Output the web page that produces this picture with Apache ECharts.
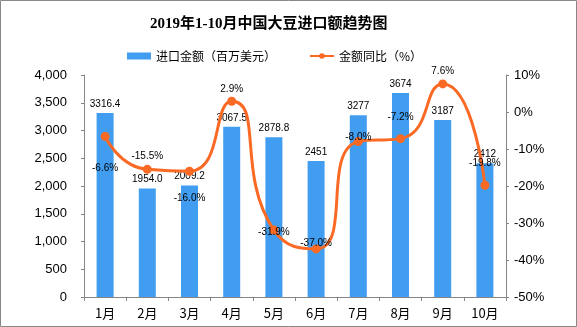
<!DOCTYPE html>
<html><head><meta charset="utf-8">
<script src="https://cdn.jsdelivr.net/npm/echarts@6/dist/echarts.min.js"></script>
<style>html,body{margin:0;padding:0;background:#fff}#c{width:577px;height:327px}</style>
</head><body><div id="c"></div>
<script>
const categories = ['1月','2月','3月','4月','5月','6月','7月','8月','9月','10月'];
const importValue = [3316.4, 1954.0, 2009.2, 3067.5, 2878.8, 2451, 3277, 3674, 3187, 2412];
const importLabels = ['3316.4','1954.0','2009.2','3067.5','2878.8','2451','3277','3674','3187','2412'];
const yoy = [-6.6, -15.5, -16.0, 2.9, -31.9, -37.0, -8.0, -7.2, 7.6, -19.8];
const yoyLabels = ['-6.6%','-15.5%','-16.0%','2.9%','-31.9%','-37.0%','-8.0%','-7.2%','7.6%','-19.8%'];
const leftTicks = [0, 4000, 500];
const rightTicks = [-50, 10, 10];

const numFont = '"Liberation Sans", "Noto Sans CJK SC", sans-serif';
const cjkFont = '"Noto Sans CJK SC", sans-serif';
// label placement per point (visual layout only)
const yoyLabelPos = [
  {position:'bottom', distance:22},
  {position:'top', distance:4},
  {position:'bottom', distance:18},
  {position:'top', distance:3},
  {position:'inside', offset:[0,2]},
  {position:'inside', offset:[0,-6]},
  {position:'inside', offset:[0,-4]},
  {position:'top', distance:12},
  {position:'top', distance:3},
  {position:'top', distance:13}
];

const chart = echarts.init(document.getElementById('c'), null, {renderer:'canvas'});
chart.setOption({
  animation:false,
  backgroundColor:'#fff',
  title:{
    text:'2019年1-10月中国大豆进口额趋势图',
    left:145, top:12,
    textStyle:{fontSize:15, fontWeight:'bold', color:'#000', fontFamily:'"Liberation Serif", "Noto Sans CJK SC", serif'}
  },
  legend:{
    left:122, top:45, itemGap:33, itemWidth:24, itemHeight:7,
    textStyle:{fontSize:12, color:'#000', fontFamily:cjkFont},
    data:[{name:'进口金额（百万美元）', icon:'rect'}, {name:'金额同比（%）'}]
  },
  grid:{left:84, right:71, top:75, bottom:30},
  xAxis:{
    type:'category', data:categories, boundaryGap:true,
    axisLine:{lineStyle:{color:'#868686', width:1}},
    axisTick:{show:true, length:4, lineStyle:{color:'#868686'}},
    axisLabel:{color:'#000', fontSize:13, margin:10, fontFamily:cjkFont}
  },
  yAxis:[{
    type:'value', min:leftTicks[0], max:leftTicks[1], interval:leftTicks[2],
    axisLine:{show:true, lineStyle:{color:'#868686'}},
    axisTick:{show:true, length:3, lineStyle:{color:'#868686'}},
    splitLine:{show:false},
    axisLabel:{color:'#000', fontSize:13, margin:17, fontFamily:numFont,
      formatter:v=>v.toLocaleString('en-US')}
  },{
    type:'value', min:rightTicks[0], max:rightTicks[1], interval:rightTicks[2],
    axisLine:{show:true, lineStyle:{color:'#868686'}},
    axisTick:{show:true, length:3, lineStyle:{color:'#868686'}},
    splitLine:{show:false},
    axisLabel:{color:'#000', fontSize:13, margin:8, fontFamily:numFont, formatter:'{value}%'}
  }],
  series:[{
    name:'进口金额（百万美元）', type:'bar', barWidth:17,
    itemStyle:{color:'#409DF0'},
    data:importValue,
    label:{show:true, position:'top', distance:4, color:'#000', fontSize:10, fontFamily:numFont,
      formatter:p=>importLabels[p.dataIndex]}
  },{
    name:'金额同比（%）', type:'line', yAxisIndex:1, smooth:0.6,
    symbol:'circle', symbolSize:9,
    lineStyle:{color:'#FA6A24', width:3},
    itemStyle:{color:'#FA6A24'},
    data:yoy.map((v,i)=>({value:v, label:Object.assign({show:true, color:'#000', fontSize:10, fontFamily:numFont,
      formatter:()=>yoyLabels[i]}, yoyLabelPos[i])})),
    z:5
  }],
  graphic:[{type:'rect', shape:{x:0.5,y:0.5,width:576,height:326}, style:{fill:'none', stroke:'#888', lineWidth:1}, silent:true}]
});
</script></body></html>
